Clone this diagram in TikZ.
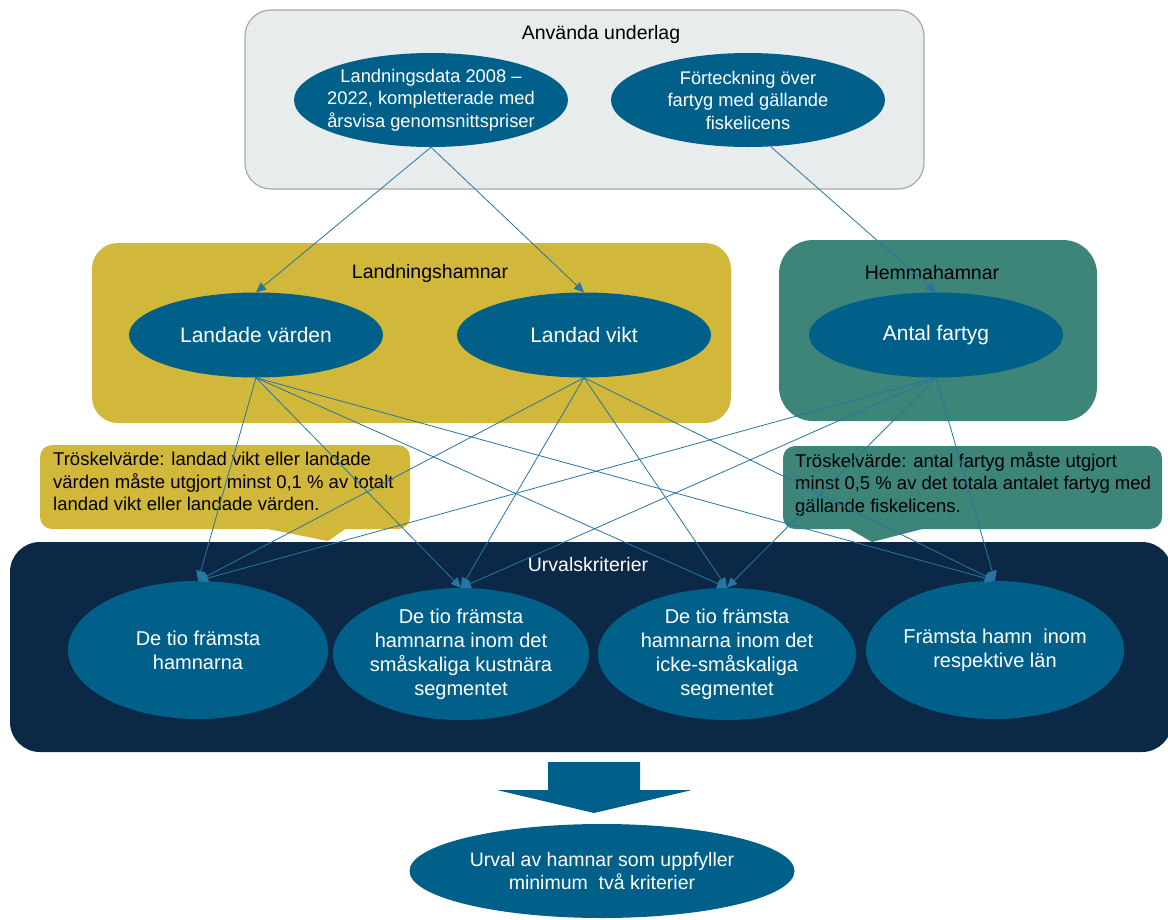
\documentclass[tikz,border=0pt]{standalone}
\usepackage{fontspec}
\setmainfont{Liberation Sans}
\usetikzlibrary{shapes.geometric,arrows.meta}
\definecolor{ellblue}{HTML}{00608A}
\definecolor{goldfill}{HTML}{D1B73A}
\definecolor{tealfill}{HTML}{3D8479}
\definecolor{navyfill}{HTML}{0B2946}
\definecolor{boxgray}{HTML}{E9ECED}
\definecolor{bordergray}{HTML}{A9A9A9}
\definecolor{linkblue}{HTML}{2676A3}
\begin{document}
\begin{tikzpicture}[x=1pt,y=-1pt,
  ell/.style={ellipse, fill=ellblue, text=white, inner sep=-40pt, align=center},
  fa/.style={font=\fontsize{18.3}{22.5}\selectfont},
  fb/.style={font=\fontsize{21}{24}\selectfont},
  fc/.style={font=\fontsize{20}{24}\selectfont},
  fd/.style={font=\fontsize{19.5}{23}\selectfont},
  title/.style={fd, text=black, inner sep=0pt},
  callout/.style={font=\fontsize{18.5}{22.5}\selectfont, text=black, align=left, anchor=north west, inner sep=0pt},
  link/.style={draw=linkblue, line width=0.8pt, -{Triangle[length=10pt,width=9pt]}}
]
\useasboundingbox (0,0) rectangle (1168,919);
\fill[white] (0,0) rectangle (1168,919);

% group boxes
\draw[fill=boxgray, draw=bordergray, line width=1.2pt, rounded corners=26pt] (245,10) rectangle (924,189);
\fill[goldfill, rounded corners=26pt] (92,243) rectangle (731,423);
\fill[tealfill, rounded corners=34pt] (779,240) rectangle (1097,421);
\fill[navyfill, rounded corners=30pt] (10,542) rectangle (1172,752);

% callouts
\fill[goldfill, rounded corners=12pt] (40,445) rectangle (410,529);
\fill[goldfill] (258,527) -- (328,541) -- (348,527) -- cycle;
\fill[tealfill, rounded corners=12pt] (783,446) rectangle (1162,529);
\fill[tealfill] (846,527) -- (872,542) -- (930,527) -- cycle;

\node[callout] (cl) at (53,452) {Tröskelvärde: landad vikt eller landade\\värden måste utgjort minst 0,1 \% av totalt\\landad vikt eller landade värden.};
\node[callout] (cr) at (795,452) {Tröskelvärde: antal fartyg måste utgjort\\minst 0,5 \% av det totala antalet fartyg med\\gällande fiskelicens.};

% titles
\node[title] (t1) at (601,34) {Använda underlag};
\node[title] (t2) at (430,273) {Landningshamnar};
\node[title] (t3) at (932,273) {Hemmahamnar};
\node[title, text=white] (t4) at (588,565) {Urvalskriterier};

% ellipses
\node[ell, fa, minimum width=274pt, minimum height=94pt] (A) at (431,100) {Landningsdata 2008 –\\2022, kompletterade med\\årsvisa genomsnittspriser};
\node[ell, fa, minimum width=274pt, minimum height=94pt] (B) at (748,100) {Förteckning över\\fartyg med gällande\\fiskelicens};

\node[ell, fb, minimum width=254pt, minimum height=85pt] (lvd) at (256,335) {Landade värden};
\node[ell, fb, minimum width=254pt, minimum height=85pt] (lvk) at (584,335) {Landad vikt};
\node[ell, fb, minimum width=254pt, minimum height=85pt] (af) at (936,335) {Antal fartyg};

\node[ell, fc, minimum width=260pt, minimum height=138pt] (c1) at (198,650) {De tio främsta\\hamnarna};
\node[ell, fc, minimum width=256pt, minimum height=132pt] (c2) at (461,654) {De tio främsta\\hamnarna inom det\\småskaliga kustnära\\segmentet};
\node[ell, fc, minimum width=258pt, minimum height=132pt] (c3) at (727,654) {De tio främsta\\hamnarna inom det\\icke-småskaliga\\segmentet};
\node[ell, fc, minimum width=258pt, minimum height=138pt] (c4) at (995,650) {Främsta hamn\ \ inom\\respektive län};

% block arrow
\fill[ellblue] (548,762) -- (640,762) -- (640,790) -- (692,790) -- (594,813) -- (497,790) -- (548,790) -- cycle;

\node[ell, fd, minimum width=385pt, minimum height=94pt] (fin) at (602,871) {Urval av hamnar som uppfyller\\minimum\ \ två kriterier};

% connectors
\draw[link] (A.south) -- (lvd.north);
\draw[link] (A.south) -- (lvk.north);
\draw[link] (B.-64) -- (af.north);

\foreach \s in {lvd,lvk,af}{
  \foreach \t in {c1,c2,c3,c4}{
    \draw[link] (\s.south) -- (\t.north);
  }
}
\end{tikzpicture}
\end{document}
